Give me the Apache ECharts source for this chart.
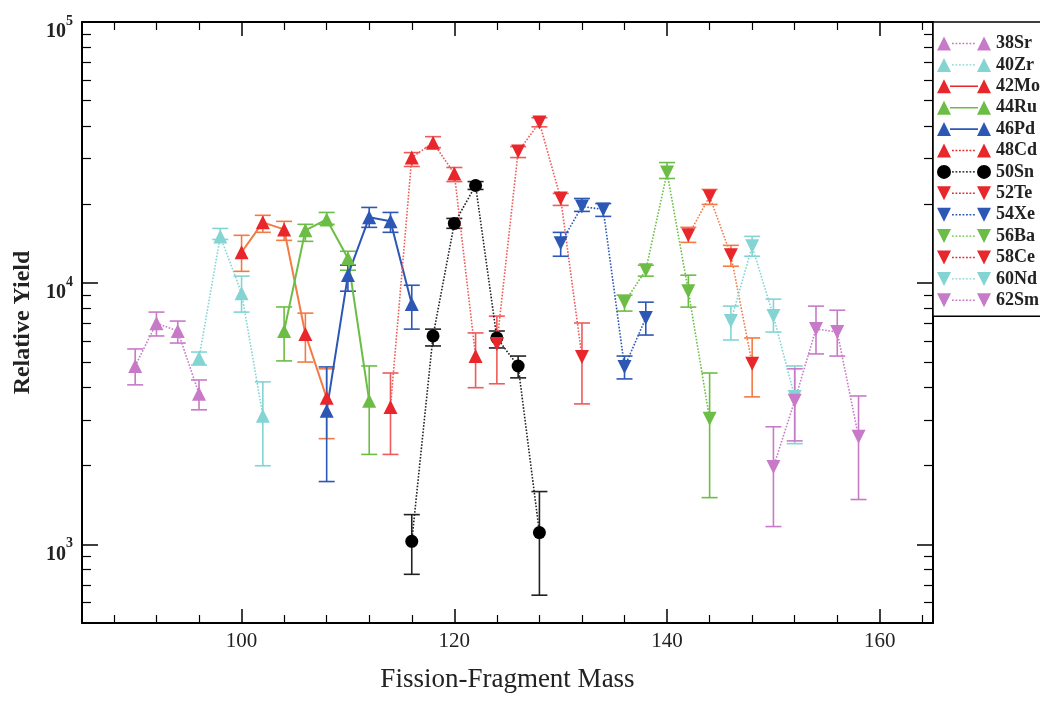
<!DOCTYPE html>
<html>
<head>
<meta charset="utf-8">
<script src="https://cdn.jsdelivr.net/npm/echarts@6/dist/echarts.min.js"></script>
<style>html,body{margin:0;padding:0;background:#fff;}#c{width:1040px;height:702px;}</style>
</head>
<body>
<div id="c"></div>
<script>
// ---- data (mass, yield, lower error, upper error) ----
const srMass = [90, 92, 94, 96];
const srVal  = [4820, 7030, 6560, 3770];
const srLo   = [4080, 6280, 5900, 3275];
const srHi   = [5600, 7750, 7160, 4260];

const zrMass = [96, 98, 100, 102];
const zrVal  = [5170, 15100, 9160, 3110];
const zrLo   = [4860, 14700, 7750, 2000];
const zrHi   = [5450, 16200, 10640, 4190];

const moMass = [100, 102, 104, 106, 108];
const moVal  = [13140, 17100, 16070, 6390, 3640];
const moLo   = [11100, 15660, 14590, 4990, 2540];
const moHi   = [15250, 18190, 17250, 7680, 4700];

const ruMass = [104, 106, 108, 110, 112];
const ruVal  = [6560, 15930, 17540, 12460, 3545];
const ruLo   = [5040, 14460, 16800, 11210, 2210];
const ruHi   = [8110, 16800, 18660, 13250, 4820];

const pdMass = [108, 110, 112, 114, 116];
const pdVal  = [3250, 10740, 17870, 17250, 8320];
const pdLo   = [1740, 9320, 16360, 15660, 6670];
const pdHi   = [4780, 11720, 19500, 18660, 9820];

const cdMass = [114, 116, 118, 120, 122];
const cdVal  = [3360, 30270, 34510, 26300, 5260];
const cdLo   = [2210, 27980, 33040, 24490, 3980];
const cdHi   = [4530, 31620, 36390, 27730, 6450];

const snMass = [116, 118, 120, 122, 124, 126, 128];
const snVal  = [1027, 6280, 16940, 23660, 6170, 4820, 1110];
const snLo   = [768, 5750, 16220, 22850, 5650, 4340, 639];
const snHi   = [1300, 6670, 17700, 24490, 6560, 5260, 1593];

const teMass = [124, 126, 128, 130, 132];
const teVal  = [5850, 31900, 41200, 21100, 5220];
const teLo   = [4120, 30270, 39700, 19850, 3450];
const teHi   = [7480, 33340, 43000, 22070, 7040];

const xeMass = [130, 132, 134, 136, 138];
const xeVal  = [14210, 19670, 19150, 4780, 7350];
const xeLo   = [12680, 18830, 18020, 4300, 6330];
const xeHi   = [15650, 21100, 20180, 5260, 8460];

const baMass = [136, 138, 140, 142, 144];
const baVal  = [8460, 11210, 26530, 9320, 3030];
const baLo   = [7820, 10640, 25170, 8100, 1510];
const baHi   = [9000, 11720, 28960, 10730, 4530];

const ceMass = [142, 144, 146, 148];
const ceVal  = [15250, 21480, 12790, 4910];
const ceLo   = [14330, 20020, 11610, 3670];
const ceHi   = [16360, 22850, 13960, 6170];

const ndMass = [146, 148, 150, 152];
const ndVal  = [7160, 13840, 7480, 3670];
const ndLo   = [6060, 12680, 6500, 2430];
const ndHi   = [8170, 15110, 8690, 4820];

const smMass = [150, 152, 154, 156, 158];
const smVal  = [1980, 3545, 6680, 6500, 2580];
const smLo   = [1170, 2490, 5360, 5260, 1485];
const smHi   = [2820, 4700, 8170, 7880, 3700];

// ---- axis ticks ----
const xMajorTicks = [100, 120, 140, 160];
const xMinorTicks = [88, 92, 96, 104, 108, 112, 116, 124, 128, 132, 136, 144, 148, 152, 156, 164];
const yMajorTicks = [1000, 10000, 100000];
const yMinorTicks = [600, 700, 800, 900, 2000, 3000, 4000, 5000, 6000, 7000, 8000, 9000,
                     20000, 30000, 40000, 50000, 60000, 70000, 80000, 90000];

// ---- styling ----
const FONT = "'Liberation Serif','DejaVu Serif',serif";
const MAGENTA = '#c77ac8', CYAN = '#84d4d4', RED = '#e8262b', ORANGE = '#f37a45',
      GREEN = '#6cbd45', BLUE = '#2c57b5', BLACK = '#000000', PINK = '#ef5a5a';

const species = [
  {name:'38Sr', m:srMass, v:srVal, lo:srLo, hi:srHi, mc:MAGENTA, lc:MAGENTA, down:false, sym:'tri', dash:'dotted'},
  {name:'40Zr', m:zrMass, v:zrVal, lo:zrLo, hi:zrHi, mc:CYAN, lc:CYAN, down:false, sym:'tri', dash:'dotted'},
  {name:'42Mo', m:moMass, v:moVal, lo:moLo, hi:moHi, mc:RED, lc:ORANGE, down:false, sym:'tri', dash:'solid'},
  {name:'44Ru', m:ruMass, v:ruVal, lo:ruLo, hi:ruHi, mc:GREEN, lc:GREEN, down:false, sym:'tri', dash:'solid'},
  {name:'46Pd', m:pdMass, v:pdVal, lo:pdLo, hi:pdHi, mc:BLUE, lc:BLUE, down:false, sym:'tri', dash:'solid'},
  {name:'48Cd', m:cdMass, v:cdVal, lo:cdLo, hi:cdHi, mc:RED, lc:PINK, down:false, sym:'tri', dash:'dotted'},
  {name:'50Sn', m:snMass, v:snVal, lo:snLo, hi:snHi, mc:BLACK, lc:'#222', down:false, sym:'circle', dash:'dotted'},
  {name:'52Te', m:teMass, v:teVal, lo:teLo, hi:teHi, mc:RED, lc:PINK, down:true, sym:'tri', dash:'dotted'},
  {name:'54Xe', m:xeMass, v:xeVal, lo:xeLo, hi:xeHi, mc:BLUE, lc:BLUE, down:true, sym:'tri', dash:'dotted'},
  {name:'56Ba', m:baMass, v:baVal, lo:baLo, hi:baHi, mc:GREEN, lc:GREEN, down:true, sym:'tri', dash:'dotted'},
  {name:'58Ce', m:ceMass, v:ceVal, lo:ceLo, hi:ceHi, mc:RED, lc:ORANGE, down:true, sym:'tri', dash:'dotted'},
  {name:'60Nd', m:ndMass, v:ndVal, lo:ndLo, hi:ndHi, mc:CYAN, lc:CYAN, down:true, sym:'tri', dash:'dotted'},
  {name:'62Sm', m:smMass, v:smVal, lo:smLo, hi:smHi, mc:MAGENTA, lc:MAGENTA, down:true, sym:'tri', dash:'dotted'}
];

function legendIcon(sp) {
  let p = '';
  const shape = (x0) => {
    if (sp.sym === 'circle') return `M${x0} 7A7 7 0 1 0 ${x0+14} 7A7 7 0 1 0 ${x0} 7Z`;
    if (sp.down) return `M${x0} 0L${x0+14} 0L${x0+7} 14Z`;
    return `M${x0} 14L${x0+7} 0L${x0+14} 14Z`;
  };
  p += shape(0) + shape(40);
  if (sp.dash === 'solid') {
    p += 'M13 6.2L41 6.2L41 7.8L13 7.8Z';
  } else {
    for (let x = 15; x < 39; x += 3.5) p += `M${x} 6.3L${x+1.8} 6.3L${x+1.8} 7.7L${x} 7.7Z`;
  }
  return 'path://' + p;
}

const series = [];
species.forEach(sp => {
  series.push({
    type: 'custom',
    name: sp.name + ' err',
    silent: true,
    z: 2,
    data: sp.m.map((m, i) => [m, sp.lo[i], sp.hi[i]]),
    encode: {x: 0, y: [1, 2]},
    renderItem: function (params, api) {
      const x = api.value(0);
      const a = api.coord([x, api.value(1)]);
      const b = api.coord([x, api.value(2)]);
      const w = 8;
      const st = {stroke: sp.lc, lineWidth: 1.6};
      return {type: 'group', children: [
        {type: 'line', shape: {x1: a[0], y1: a[1], x2: b[0], y2: b[1]}, style: st},
        {type: 'line', shape: {x1: a[0]-w, y1: a[1], x2: a[0]+w, y2: a[1]}, style: st},
        {type: 'line', shape: {x1: b[0]-w, y1: b[1], x2: b[0]+w, y2: b[1]}, style: st}
      ]};
    }
  });
  series.push({
    type: 'line',
    name: sp.name,
    data: sp.m.map((m, i) => [m, sp.v[i]]),
    symbol: sp.sym === 'circle' ? 'circle' : 'triangle',
    symbolRotate: sp.down ? 180 : 0,
    symbolSize: sp.sym === 'circle' ? 13 : 14,
    itemStyle: {color: sp.mc},
    lineStyle: {color: sp.lc, width: sp.dash === 'solid' ? 2 : 1.6, type: sp.dash},
    z: 3
  });
});

const tickLabelRich = {
  b: {fontFamily: FONT, fontSize: 20, fontWeight: 'bold', color: '#222', verticalAlign: 'bottom', lineHeight: 28},
  s: {fontFamily: FONT, fontSize: 14, fontWeight: 'bold', color: '#222', verticalAlign: 'top', lineHeight: 28}
};

const commonX = {type: 'value', min: 85, max: 165, splitLine: {show: false}, gridIndex: 0};
const commonY = {type: 'log', logBase: 10, min: 500, max: 100000, splitLine: {show: false}, gridIndex: 0};
const axisLine = {show: true, onZero: false, lineStyle: {color: '#000', width: 2}};

const option = {
  animation: false,
  backgroundColor: '#fff',
  grid: {left: 82, right: 107, top: 22, bottom: 79, show: false},
  legend: {
    orient: 'vertical',
    left: 933, top: 22,
    padding: [12.5, 6, 7, 4],
    itemWidth: 54, itemHeight: 14, itemGap: 3.4,
    borderColor: '#000', borderWidth: 1.5,
    backgroundColor: '#fff',
    textStyle: {fontFamily: FONT, fontSize: 18, fontWeight: 'bold', color: '#222'},
    data: species.map(sp => ({name: sp.name, icon: legendIcon(sp), itemStyle: {color: sp.mc}}))
  },
  xAxis: [
    Object.assign({}, commonX, {
      position: 'bottom', axisLine: axisLine,
      name: 'Fission-Fragment Mass', nameLocation: 'middle', nameGap: 43,
      nameTextStyle: {fontFamily: FONT, fontSize: 27, color: '#222'},
      axisTick: {show: true, inside: true, length: 14, customValues: xMajorTicks, lineStyle: {color: '#000', width: 1.5}},
      axisLabel: {show: true, margin: 8, customValues: xMajorTicks, fontFamily: FONT, fontSize: 21, color: '#222'}
    }),
    Object.assign({}, commonX, {
      position: 'bottom', axisLine: {show: false},
      axisTick: {show: true, inside: true, length: 8, customValues: xMinorTicks, lineStyle: {color: '#000', width: 1.2}},
      axisLabel: {show: false}
    }),
    Object.assign({}, commonX, {
      position: 'top', axisLine: axisLine,
      axisTick: {show: true, inside: true, length: 14, customValues: xMajorTicks, lineStyle: {color: '#000', width: 1.5}},
      axisLabel: {show: false}
    }),
    Object.assign({}, commonX, {
      position: 'top', axisLine: {show: false},
      axisTick: {show: true, inside: true, length: 8, customValues: xMinorTicks, lineStyle: {color: '#000', width: 1.2}},
      axisLabel: {show: false}
    })
  ],
  yAxis: [
    Object.assign({}, commonY, {
      position: 'left', axisLine: axisLine,
      name: 'Relative Yield', nameLocation: 'middle', nameGap: 45,
      nameTextStyle: {fontFamily: FONT, fontSize: 24, fontWeight: 'bold', color: '#222'},
      axisTick: {show: true, inside: true, length: 16, customValues: yMajorTicks, lineStyle: {color: '#000', width: 1.5}},
      axisLabel: {
        show: true, margin: 9, customValues: yMajorTicks, padding: [12, 0, 0, 0],
        formatter: v => '{b|10}{s|' + Math.round(Math.log10(v)) + '}',
        rich: tickLabelRich
      }
    }),
    Object.assign({}, commonY, {
      position: 'left', axisLine: {show: false},
      axisTick: {show: true, inside: true, length: 9, customValues: yMinorTicks, lineStyle: {color: '#000', width: 1.2}},
      axisLabel: {show: false}
    }),
    Object.assign({}, commonY, {
      position: 'right', axisLine: axisLine,
      axisTick: {show: true, inside: true, length: 16, customValues: yMajorTicks, lineStyle: {color: '#000', width: 1.5}},
      axisLabel: {show: false}
    }),
    Object.assign({}, commonY, {
      position: 'right', axisLine: {show: false},
      axisTick: {show: true, inside: true, length: 9, customValues: yMinorTicks, lineStyle: {color: '#000', width: 1.2}},
      axisLabel: {show: false}
    })
  ],
  series: series
};

const chart = echarts.init(document.getElementById('c'), null, {renderer: 'canvas'});
chart.setOption(option);
</script>
</body>
</html>
